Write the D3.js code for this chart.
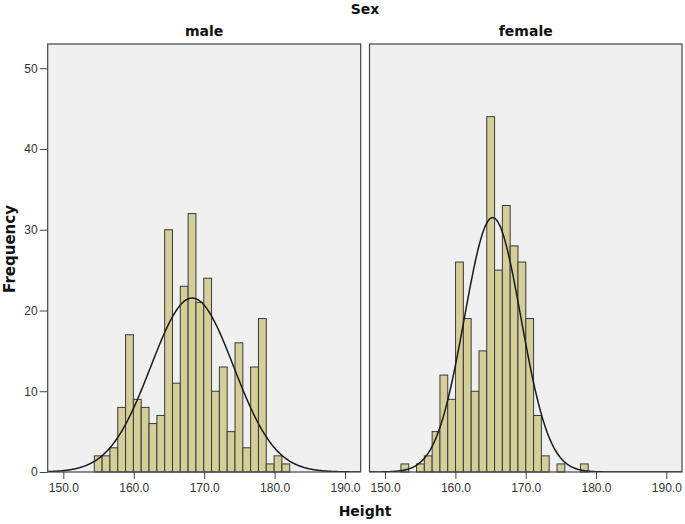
<!DOCTYPE html>
<html>
<head>
<meta charset="utf-8">
<script src="https://cdn.jsdelivr.net/npm/d3@7/dist/d3.min.js"></script>
<style>
  html, body { margin: 0; padding: 0; background: #ffffff; }
  svg { display: block; font-family: "Liberation Sans", Arial, sans-serif; }
  .bold { font-family: "DejaVu Sans", Verdana, sans-serif; font-weight: bold; fill: #111; }
</style>
</head>
<body>
<svg id="chart" width="685" height="524"></svg>
<script>
// ---- data ----
const panels = ["male", "female"];
const binWidth = 1.11;
const maleBinStart = 154.4;
const femaleBinStart = 152.25;
const maleCounts = [2, 2, 3, 8, 17, 9, 8, 6, 7, 30, 11, 23, 32, 21, 24, 10, 13, 5, 16, 3, 13, 19, 1, 2, 1];
const femaleCounts = [1, 0, 1, 2, 5, 12, 9, 26, 19, 10, 15, 44, 25, 33, 28, 26, 19, 7, 2, 0, 1, 0, 0, 1];
const maleCurve = { mean: 168.3, sd: 5.88 };
const femaleCurve = { mean: 165.3, sd: 4.02 };
const xTicks = [150, 160, 170, 180, 190];
const yTicks = [0, 10, 20, 30, 40, 50];

const series = [
  { name: panels[0], start: maleBinStart, counts: maleCounts, curve: maleCurve },
  { name: panels[1], start: femaleBinStart, counts: femaleCounts, curve: femaleCurve }
];

// ---- layout ----
const svg = d3.select("#chart");
const panelBoxes = [
  { x0: 47.7, x1: 360.7 },
  { x0: 369.5, x1: 682 }
];
const yTop = 44, yBottom = 472;
const xDomain = [147.78, 192.23];
const y = d3.scaleLinear().domain([0, 53]).range([yBottom, yTop]);

const barFill = "#d4cf98";
const strokeDark = "#3a3a3a";

svg.append("text")
  .attr("class", "bold")
  .attr("x", 365).attr("y", 13.5)
  .attr("text-anchor", "middle")
  .attr("font-size", 14)
  .text("Sex");

series.forEach((s, i) => {
  const box = panelBoxes[i];
  const x = d3.scaleLinear().domain(xDomain).range([box.x0, box.x1]);
  const g = svg.append("g");
  const clipId = "clip" + i;
  svg.append("clipPath").attr("id", clipId)
    .append("rect").attr("x", box.x0).attr("y", yTop)
    .attr("width", box.x1 - box.x0).attr("height", yBottom - yTop);

  g.append("rect")
    .attr("x", box.x0).attr("y", yTop)
    .attr("width", box.x1 - box.x0).attr("height", yBottom - yTop)
    .attr("fill", "#f0f0f0");

  // bars
  const bins = s.counts.map((c, k) => ({ x0: s.start + k * binWidth, x1: s.start + (k + 1) * binWidth, n: c }));
  g.append("g").selectAll("rect").data(bins.filter(b => b.n > 0)).join("rect")
    .attr("x", d => x(d.x0))
    .attr("y", d => y(d.n))
    .attr("width", d => x(d.x1) - x(d.x0))
    .attr("height", d => y(0) - y(d.n))
    .attr("fill", barFill)
    .attr("stroke", strokeDark)
    .attr("stroke-width", 1);

  // normal curve
  const N = d3.sum(s.counts);
  const pdf = v => Math.exp(-0.5 * Math.pow((v - s.curve.mean) / s.curve.sd, 2)) / (s.curve.sd * Math.sqrt(2 * Math.PI));
  const pts = d3.range(xDomain[0], xDomain[1] + 0.01, 0.1).map(v => [v, N * binWidth * pdf(v)]);
  g.append("path")
    .datum(pts)
    .attr("clip-path", `url(#${clipId})`)
    .attr("d", d3.line().x(d => x(d[0])).y(d => y(d[1])).curve(d3.curveBasis))
    .attr("fill", "none")
    .attr("stroke", "#1a1a1a")
    .attr("stroke-width", 1.5);

  // frame
  g.append("rect")
    .attr("x", box.x0).attr("y", yTop)
    .attr("width", box.x1 - box.x0).attr("height", yBottom - yTop)
    .attr("fill", "none").attr("stroke", "#444").attr("stroke-width", 1.2);

  // x axis
  const xAxis = d3.axisBottom(x).tickValues(xTicks).tickSize(7).tickSizeOuter(0).tickPadding(4)
    .tickFormat(d3.format(".1f"));
  const xa = svg.append("g").attr("transform", `translate(0,${yBottom})`).call(xAxis);
  xa.select(".domain").remove();
  xa.selectAll("line").attr("stroke", "#444");
  xa.selectAll("text").attr("font-size", 12).attr("fill", "#333")
    .attr("font-family", "'Liberation Sans', Arial, sans-serif");

  // panel title
  svg.append("text")
    .attr("class", "bold")
    .attr("x", (box.x0 + box.x1) / 2).attr("y", 36)
    .attr("text-anchor", "middle")
    .attr("font-size", 14)
    .text(s.name);

  if (i === 0) {
    const yAxis = d3.axisLeft(y).tickValues(yTicks).tickSize(8).tickSizeOuter(0).tickPadding(2);
    const ya = svg.append("g").attr("transform", `translate(${box.x0},0)`).call(yAxis);
    ya.select(".domain").remove();
    ya.selectAll("line").attr("stroke", "#444");
    ya.selectAll("text").attr("font-size", 12).attr("fill", "#333")
      .attr("font-family", "'Liberation Sans', Arial, sans-serif");
  }
});

svg.append("text")
  .attr("class", "bold")
  .attr("x", 365).attr("y", 516)
  .attr("text-anchor", "middle")
  .attr("font-size", 14)
  .text("Height");

svg.append("text")
  .attr("class", "bold")
  .attr("transform", "translate(15,249) rotate(-90)")
  .attr("text-anchor", "middle")
  .attr("font-size", 15)
  .text("Frequency");
</script>
</body>
</html>
